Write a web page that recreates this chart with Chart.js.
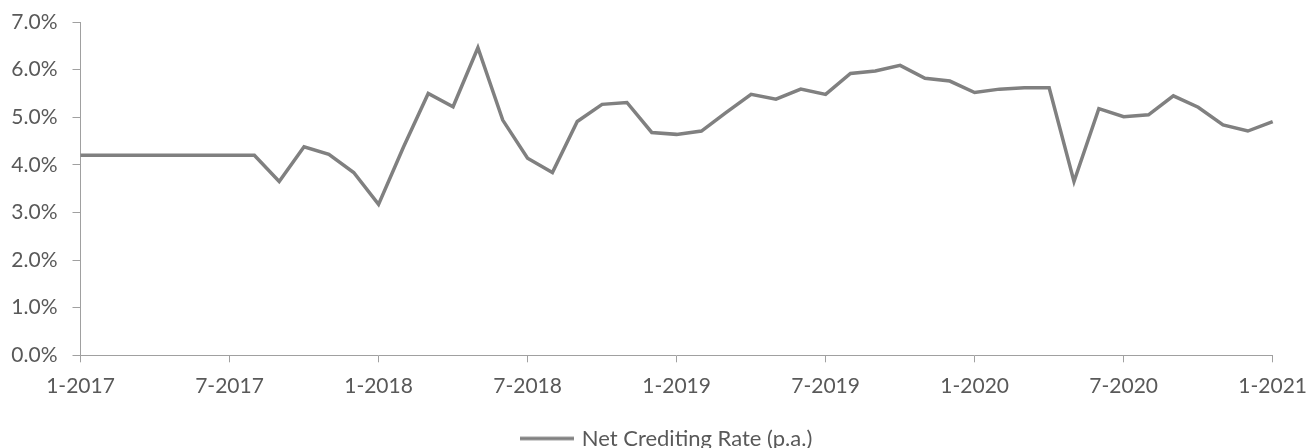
<!DOCTYPE html>
<html>
<head>
<meta charset="utf-8">
<script src="https://cdn.jsdelivr.net/npm/chart.js@4/dist/chart.umd.min.js"></script>
<style>
  html, body { margin: 0; padding: 0; background: #ffffff; overflow: hidden; }
  #wrap { width: 1309px; height: 448px; position: relative; }
  #c { display: block; }
</style>
</head>
<body>
<div id="wrap"><canvas id="c"></canvas></div>
<script>
const months = [
  "1-2017","2-2017","3-2017","4-2017","5-2017","6-2017","7-2017","8-2017","9-2017","10-2017","11-2017","12-2017",
  "1-2018","2-2018","3-2018","4-2018","5-2018","6-2018","7-2018","8-2018","9-2018","10-2018","11-2018","12-2018",
  "1-2019","2-2019","3-2019","4-2019","5-2019","6-2019","7-2019","8-2019","9-2019","10-2019","11-2019","12-2019",
  "1-2020","2-2020","3-2020","4-2020","5-2020","6-2020","7-2020","8-2020","9-2020","10-2020","11-2020","12-2020",
  "1-2021"
];
const netCreditingRate = [
  4.20, 4.20, 4.20, 4.20, 4.20, 4.20, 4.20, 4.20, 3.65, 4.38, 4.22, 3.84,
  3.17, 4.37, 5.50, 5.22, 6.46, 4.94, 4.14, 3.84, 4.91, 5.27, 5.31, 4.68,
  4.64, 4.71, 5.10, 5.48, 5.38, 5.59, 5.48, 5.92, 5.97, 6.09, 5.82, 5.76,
  5.52, 5.59, 5.62, 5.62, 3.65, 5.18, 5.01, 5.05, 5.45, 5.21, 4.84, 4.71,
  4.91
];
const seriesName = "Net Crediting Rate (p.a.)";
const yTicks = [0, 1, 2, 3, 4, 5, 6, 7];

const textColor = "#595959";
const axisColor = "#a0a0a0";
const lineColor = "#808080";
const fontFamily = "Lato, 'Open Sans', sans-serif";

// legend swatch: a short thick line drawn on a small canvas
const swatch = document.createElement("canvas");
swatch.width = 54; swatch.height = 6;
(function () {
  const g = swatch.getContext("2d");
  g.strokeStyle = lineColor;
  g.lineWidth = 3.5;
  g.beginPath(); g.moveTo(0, 3); g.lineTo(54, 3); g.stroke();
})();

const legendPlacer = {
  id: "legendPlacer",
  afterLayout(chart) {
    const lg = chart.legend;
    if (!lg) return;
    const dx = 668 - (lg.left + lg.right) / 2;
    lg.left += dx; lg.right += dx;
    const h = lg.height;
    lg.top = 417.5; lg.bottom = lg.top + h;
  }
};

new Chart(document.getElementById("c"), {
  type: "line",
  data: {
    labels: months,
    datasets: [{
      label: seriesName,
      data: netCreditingRate,
      borderColor: lineColor,
      backgroundColor: lineColor,
      borderWidth: 3.5,
      pointRadius: 0,
      tension: 0,
      fill: false
    }]
  },
  plugins: [legendPlacer],
  options: {
    responsive: true,
    maintainAspectRatio: false,
    animation: false,
    devicePixelRatio: 1,
    events: [],
    layout: { padding: { top: 22, right: 36.3, left: 0, bottom: 0 } },
    plugins: {
      tooltip: { enabled: false },
      legend: {
        display: true,
        position: "bottom",
        labels: {
          usePointStyle: true,
          pointStyle: swatch,
          pointStyleWidth: 47,
          boxHeight: 20,
          padding: 10,
          color: textColor,
          font: { family: fontFamily, size: 22 }
        }
      }
    },
    scales: {
      x: {
        type: "category",
        offset: false,
        grid: {
          display: true,
          drawOnChartArea: false,
          drawTicks: true,
          tickLength: 7,
          color: axisColor,
          lineWidth: 1
        },
        border: { display: true, color: axisColor, width: 1 },
        ticks: {
          autoSkip: false,
          maxRotation: 0,
          minRotation: 0,
          padding: 11.5,
          color: textColor,
          font: { family: fontFamily, size: 21 },
          callback: function(value, index) {
            return index % 6 === 0 ? months[index] : null;
          }
        },
        afterFit: function(scale) {
          scale.height = 50.7;
          scale.paddingLeft = 0; scale.paddingRight = 0;
          scale.paddingTop = 0; scale.paddingBottom = 0;
        }
      },
      y: {
        min: 0,
        max: 7,
        afterBuildTicks: function(scale) {
          scale.ticks = yTicks.map(v => ({ value: v }));
        },
        grid: {
          display: true,
          drawOnChartArea: false,
          drawTicks: true,
          tickLength: 8,
          color: axisColor,
          lineWidth: 1
        },
        border: { display: true, color: axisColor, width: 1 },
        ticks: {
          padding: 15,
          color: textColor,
          font: { family: fontFamily, size: 21 },
          callback: function(value) { return value.toFixed(1) + "%"; }
        },
        afterFit: function(scale) {
          scale.width = 80.5;
          scale.paddingLeft = 0; scale.paddingRight = 0;
          scale.paddingTop = 0; scale.paddingBottom = 0;
        }
      }
    }
  }
});
</script>
</body>
</html>
